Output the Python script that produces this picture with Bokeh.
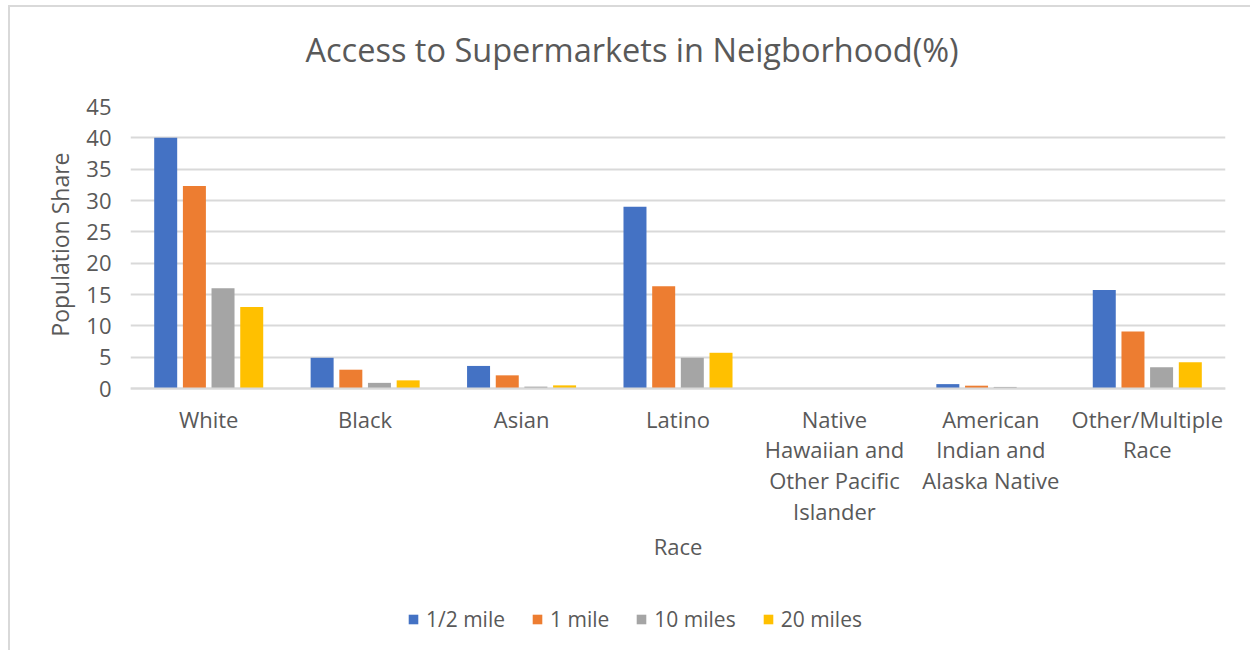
from bokeh.plotting import figure
from bokeh.models import (FactorRange, Range1d, Legend, LegendItem, ColumnDataSource,
                          FixedTicker, Title)
from bokeh.transform import dodge
from bokeh.embed import file_html
from bokeh.resources import INLINE

categories = ["White", "Black", "Asian", "Latino",
              "Native\nHawaiian and\nOther Pacific\nIslander",
              "American\nIndian and\nAlaska Native",
              "Other/Multiple\nRace"]
series_names = ["1/2 mile", "1 mile", "10 miles", "20 miles"]
half_mile = [40.0, 4.9, 3.6, 29.0, 0.0, 0.7, 15.7]
one_mile = [32.3, 3.0, 2.1, 16.3, 0.0, 0.45, 9.1]
ten_miles = [16.0, 0.9, 0.3, 4.9, 0.0, 0.25, 3.4]
twenty_miles = [13.0, 1.3, 0.5, 5.7, 0.0, 0.0, 4.2]
colors = ["#4472C4", "#ED7D31", "#A5A5A5", "#FFC000"]
y_max = 45
y_ticks_step = 5
y_ticks = list(range(0, y_max + 1, y_ticks_step))
title_text = "Access to Supermarkets in Neigborhood(%)"
x_title = "Race"
y_title = "Population Share"

src = ColumnDataSource(dict(race=categories, s0=half_mile, s1=one_mile, s2=ten_miles, s3=twenty_miles))

FONT = "Open Sans"
TXT = "#595959"

# the frame runs from the 45 line down to the bottom of the chart so that the
# legend (which sits below the category labels) can live inside it
BAR_AREA_H = 282
FRAME_H = 544
y_min = -y_max * (FRAME_H - BAR_AREA_H) / BAR_AREA_H

p = figure(x_range=FactorRange(*categories), y_range=Range1d(y_min, y_max),
           frame_width=1095, frame_height=FRAME_H, output_backend="svg", toolbar_location=None,
           min_border_left=120, min_border_right=25, min_border_top=99, min_border_bottom=0)
p.styles = {"margin-left": "8px", "margin-top": "5px",
            "border-left": "2px solid #d9d9d9", "border-top": "2px solid #d9d9d9"}

offsets = [-0.275, -0.0915, 0.0915, 0.275]
items = []
for i, (off, c, name) in enumerate(zip(offsets, colors, series_names)):
    r = p.vbar(x=dodge("race", off, range=p.x_range), top="s%d" % i, bottom=0, width=0.147,
               source=src, fill_color=c, line_color=None)
    items.append(LegendItem(label=name, renderers=[r]))

p.title.text = title_text
p.title.align = "left"
p.title.offset = 175
p.title.vertical_align = "top"
p.title.text_font = FONT
p.title.text_font_size = "32.5px"
p.title.text_font_style = "normal"
p.title.text_color = TXT
p.title.standoff = 39

spacer = Title(text=" ", text_font_size="1px", standoff=10)
p.add_layout(spacer, "above")

p.outline_line_color = None
p.xgrid.grid_line_color = None
p.ygrid.grid_line_color = "#d9d9d9"
p.ygrid.grid_line_width = 2
p.yaxis.ticker = FixedTicker(ticks=y_ticks)
p.ygrid.ticker = FixedTicker(ticks=y_ticks)

p.yaxis.axis_line_color = None
p.yaxis.major_tick_line_color = None
p.yaxis.minor_tick_line_color = None
p.yaxis.major_tick_out = 0
p.yaxis.major_label_standoff = 19
p.yaxis.major_label_text_font = FONT
p.yaxis.major_label_text_font_size = "22px"
p.yaxis.major_label_text_color = TXT

ytitle = Title(text=y_title, align="right", offset=46, vertical_align="bottom", standoff=16,
               text_font=FONT, text_font_size="23px", text_font_style="normal", text_color=TXT)
p.add_layout(ytitle, "left")

p.xaxis.fixed_location = 0
p.xaxis.axis_line_color = "#d9d9d9"
p.xaxis.axis_line_width = 2
p.xaxis.major_tick_line_color = None
p.xaxis.major_tick_out = 0
p.xaxis.major_label_standoff = 15
p.xaxis.major_label_text_font = FONT
p.xaxis.major_label_text_font_size = "22px"
p.xaxis.major_label_text_color = TXT
p.xaxis.major_label_text_line_height = 1.03
p.xaxis.axis_label = x_title
p.xaxis.axis_label_text_font = FONT
p.xaxis.axis_label_text_font_size = "22px"
p.xaxis.axis_label_text_font_style = "normal"
p.xaxis.axis_label_text_color = TXT
p.xaxis.axis_label_standoff = 2

legend = Legend(items=items, orientation="horizontal", location=(277, 17),
                label_text_font=FONT, label_text_font_size="21px", label_text_color=TXT,
                glyph_width=12, glyph_height=12, spacing=26, label_standoff=7,
                border_line_color=None, background_fill_alpha=0, margin=0, padding=10)
p.add_layout(legend)

open("out.html", "w").write(file_html(p, INLINE))
